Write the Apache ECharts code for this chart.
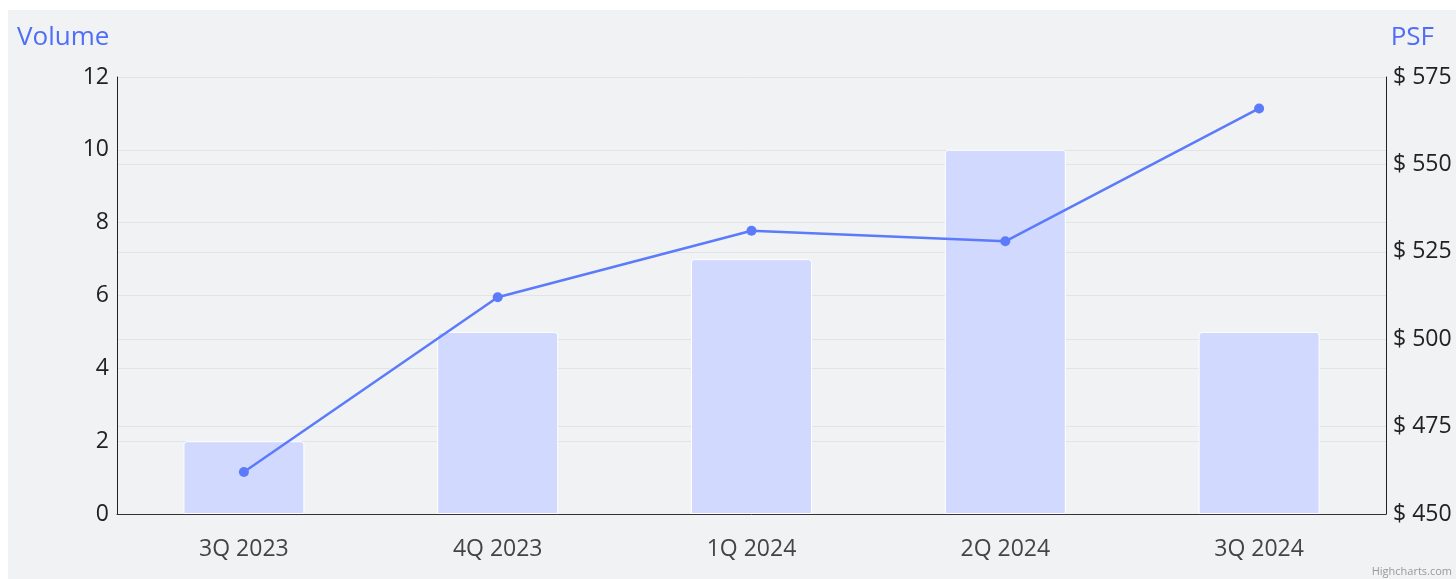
<!DOCTYPE html>
<html>
<head>
<meta charset="utf-8">
<script src="https://cdn.jsdelivr.net/npm/echarts@6/dist/echarts.min.js"></script>
<style>
  html, body { margin: 0; padding: 0; background: #ffffff; }
  #chart {
    position: absolute;
    left: 8px;
    top: 10px;
    width: 1448px;
    height: 569px;
    background: #f1f2f4;
  }
</style>
</head>
<body>
<div id="chart"></div>
<script>
// 数据
var quarters = ["3Q 2023", "4Q 2023", "1Q 2024", "2Q 2024", "3Q 2024"];
var volume = [2, 5, 7, 10, 5];
var psf = [462, 512, 531, 528, 566];

var chartDom = document.getElementById("chart");
var myChart = echarts.init(chartDom);
var option;

option = {
  textStyle: { fontFamily: "Open Sans" },
  animation: false,
  title: [
    {
      text: "Volume",
      left: 9,
      top: 15,
      padding: 0,
      textStyle: { color: "#4f6ef7", fontSize: 26, fontWeight: "normal", fontFamily: "Open Sans" }
    },
    {
      text: "PSF",
      right: 22,
      top: 15,
      padding: 0,
      textStyle: { color: "#4f6ef7", fontSize: 26, fontWeight: "normal", fontFamily: "Open Sans" }
    }
  ],
  graphic: [
    {
      type: "text",
      right: 4,
      bottom: 2,
      style: { text: "Highcharts.com", fill: "#999999", fontSize: 11, fontFamily: "Open Sans" }
    }
  ],
  grid: { left: 109, right: 70, top: 67, bottom: 65 },
  xAxis: {
    type: "category",
    data: quarters,
    axisLine: { show: true, lineStyle: { color: "#333333", width: 1 } },
    axisTick: { show: false },
    axisLabel: { color: "#444444", fontSize: 23, margin: 24 }
  },
  yAxis: [
    {
      type: "value",
      min: 0,
      max: 12,
      interval: 2,
      axisLine: { show: true, lineStyle: { color: "#222222", width: 1 } },
      axisTick: { show: false },
      axisLabel: { color: "#222222", fontSize: 23, margin: 8 },
      splitLine: { show: true, lineStyle: { color: "#e2e3e6", width: 1 } }
    },
    {
      type: "value",
      min: 450,
      max: 575,
      interval: 25,
      position: "right",
      axisLine: { show: true, lineStyle: { color: "#222222", width: 1 } },
      axisTick: { show: false },
      axisLabel: { color: "#222222", fontSize: 23, margin: 7, formatter: "$ {value}" },
      splitLine: { show: true, lineStyle: { color: "#e2e3e6", width: 1 } }
    }
  ],
  series: [
    {
      name: "Volume",
      type: "bar",
      yAxisIndex: 0,
      data: volume,
      barWidth: 121,
      itemStyle: {
        color: "#d1d9ff",
        borderColor: "#ffffff",
        borderWidth: 1,
        borderRadius: [3, 3, 0, 0]
      }
    },
    {
      name: "PSF",
      type: "line",
      yAxisIndex: 1,
      data: psf,
      symbol: "circle",
      symbolSize: 10,
      lineStyle: { color: "#5b7bfa", width: 2.5 },
      itemStyle: { color: "#5b7bfa" },
      z: 5
    }
  ]
};

option && myChart.setOption(option);
</script>
</body>
</html>
